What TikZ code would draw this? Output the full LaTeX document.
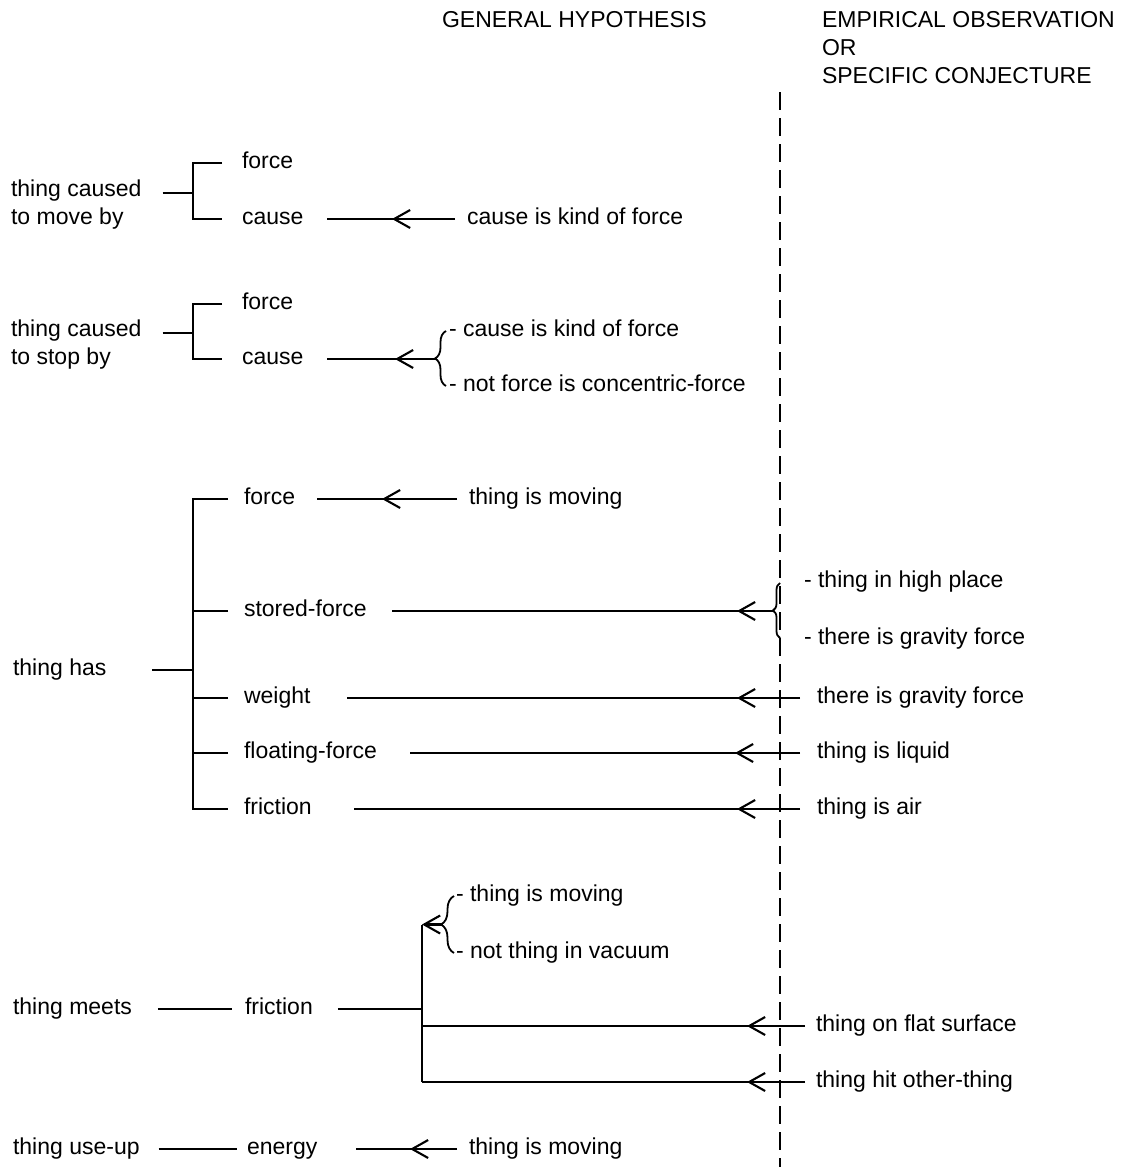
\documentclass[tikz,border=0pt]{standalone}
\usepackage{fontspec}
\setmainfont{Liberation Sans}
\usetikzlibrary{arrows.meta,decorations.markings,decorations.pathreplacing}

\begin{document}
\begin{tikzpicture}[x=1pt,y=-1pt,
    font=\fontsize{23}{28}\selectfont,
    line width=2.1pt,
    obs/.tip={Straight Barb[length=16pt,width=18pt]},
    lbl/.style={anchor=west, inner sep=0pt, text height=16.5pt, text depth=4.8pt},
    pair/.style={anchor=west, inner sep=0pt, align=left},
    head/.style={anchor=west, inner sep=0pt, align=left, font=\fontsize{23}{28}\selectfont},
    tipat/.style={postaction={decorate,decoration={markings,mark=at position #1 with {\arrow{obs}}}}},
    brc/.style={decorate,decoration={brace,amplitude=#1}, line width=1.8pt},
    sep/.style={dash pattern=on 18pt off 8pt, line width=1.8pt}]
    \path[use as bounding box, fill=white] (0,0) rectangle (1142,1167);

    % column headings and the divider
    \node[head] (gh) at (441,20) {GENERAL HYPOTHESIS};
    \node[head] (eo) at (821,48) {EMPIRICAL OBSERVATION\\OR\\SPECIFIC CONJECTURE};
    \draw[sep] (780,92) -- (780,1167);

    % thing caused to move by
    \node[pair] (mv) at (10,205) {thing caused\\to move by};
    \node[lbl] (mvF) at (241,163) {force};
    \node[lbl] (mvC) at (241,219) {cause};
    \node[lbl] (oa) at (466,219) {cause is kind of force};
    \coordinate (sp1) at (193,193);
    \draw ([xshift=20pt]mv.east |- sp1) -- (sp1);
    \draw ([xshift=-19pt]mvF.west) -| (sp1) |- ([xshift=-19pt]mvC.west);
    \draw[tipat=63pt] ([xshift=-11pt]oa.west) -- ([xshift=23pt]mvC.east);

    % thing caused to stop by
    \node[pair] (st) at (10,345) {thing caused\\to stop by};
    \node[lbl] (stF) at (241,304) {force};
    \node[lbl] (stC) at (241,359) {cause};
    \node[lbl] (ob1) at (448,331) {- cause is kind of force};
    \node[lbl] (ob2) at (448,386) {- not force is concentric-force};
    \coordinate (sp2) at (193,333);
    \draw ([xshift=20pt]st.east |- sp2) -- (sp2);
    \draw ([xshift=-19pt]stF.west) -| (sp2) |- ([xshift=-19pt]stC.west);
    \draw[brc=11pt] ([xshift=-2pt]ob2.west) -- ([xshift=-2pt]ob1.west);
    \coordinate (b2) at (435,359);
    \draw[tipat=40pt] (b2) -- ([xshift=23pt]stC.east);

    % thing has
    \node[lbl] (has) at (12,670) {thing has};
    \node[lbl] (hF) at (243,499) {force};
    \node[lbl] (hS) at (243,611) {stored-force};
    \node[lbl] (hW) at (243,698) {weight};
    \node[lbl] (hL) at (243,753) {floating-force};
    \node[lbl] (hR) at (243,809) {friction};
    \coordinate (sp3) at (193,670);
    \draw ([xshift=45pt]has.east) -- (sp3);
    \draw ([xshift=-15pt]hF.west) -| (sp3) |- ([xshift=-15pt]hR.west);
    \foreach \n in {hS,hW,hL}
        \draw ([xshift=-15pt]\n.west) -- (\n.west -| sp3);

    \node[lbl] (oc) at (468,499) {thing is moving};
    \node[lbl] (od1) at (803,582) {- thing in high place};
    \node[lbl] (od2) at (803,639) {- there is gravity force};
    \node[lbl] (oe) at (816,698) {there is gravity force};
    \node[lbl] (of) at (816,753) {thing is liquid};
    \node[lbl] (og) at (816,809) {thing is air};
    \draw[tipat=75pt] ([xshift=-11pt]oc.west) -- ([xshift=21pt]hF.east);
    \draw[brc=7pt] (780,638) -- (780,583);
    \coordinate (b4) at (773,611);
    \draw[tipat=36pt] (b4) -- ([xshift=24pt]hS.east);
    \draw[tipat=63pt] ([xshift=-16pt]oe.west) -- ([xshift=35pt]hW.east);
    \draw[tipat=65pt] ([xshift=-16pt]of.west) -- ([xshift=32pt]hL.east);
    \draw[tipat=63pt] ([xshift=-16pt]og.west) -- ([xshift=41pt]hR.east);

    % thing meets friction
    \node[lbl] (mt) at (12,1009) {thing meets};
    \node[lbl] (mtR) at (244,1009) {friction};
    \node[lbl] (oh1) at (455,896) {- thing is moving};
    \node[lbl] (oh2) at (455,953) {- not thing in vacuum};
    \node[lbl] (oi) at (815,1026) {thing on flat surface};
    \node[lbl] (oj) at (815,1082) {thing hit other-thing};
    \coordinate (sp4) at (422,1009);
    \draw ([xshift=25pt]mt.east) -- ([xshift=-12pt]mtR.west);
    \draw ([xshift=24pt]mtR.east) -- (sp4);
    \draw[brc=13pt] ([xshift=-1pt]oh2.west) -- ([xshift=-1pt]oh1.west);
    \coordinate (b8) at (441,924.5);
    \draw[-obs] (b8) -- (b8 -| sp4);
    \draw (b8 -| sp4) -- (oj.west -| sp4);
    \draw[tipat=58pt] ([xshift=-10pt]oi.west) -- (oi.west -| sp4);
    \draw[tipat=58pt] ([xshift=-10pt]oj.west) -- (oj.west -| sp4);

    % thing use-up energy
    \node[lbl] (uu) at (12,1149) {thing use-up};
    \node[lbl] (en) at (246,1149) {energy};
    \node[lbl] (ok) at (468,1149) {thing is moving};
    \draw ([xshift=18pt]uu.east) -- ([xshift=-9pt]en.west);
    \draw[tipat=47pt] ([xshift=-11pt]ok.west) -- ([xshift=38pt]en.east);
\end{tikzpicture}
\end{document}
